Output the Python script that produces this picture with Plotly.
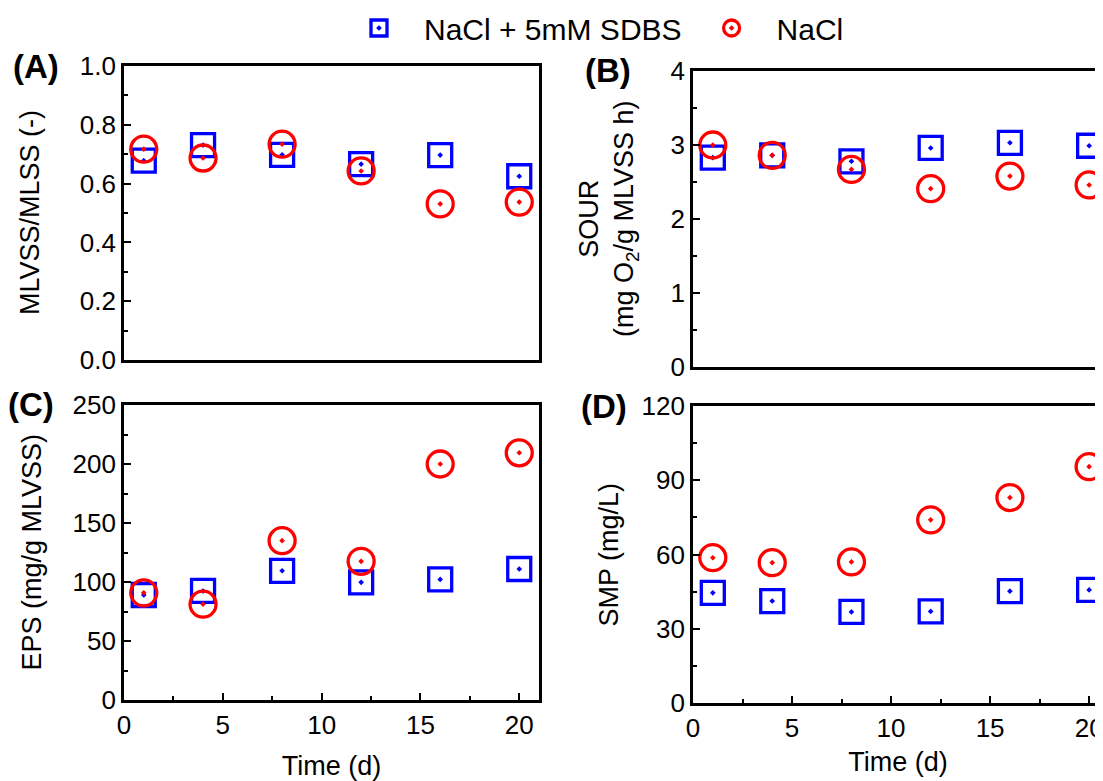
import plotly.graph_objects as go

days = [1, 4, 8, 12, 16, 20]
series_names = ["NaCl + 5mM SDBS", "NaCl"]

ratio_sdbs = [0.678, 0.731, 0.698, 0.666, 0.697, 0.625]
ratio_nacl = [0.717, 0.687, 0.734, 0.643, 0.531, 0.537]
sour_sdbs = [2.83, 2.86, 2.78, 2.96, 3.03, 2.99]
sour_nacl = [3.00, 2.86, 2.67, 2.41, 2.58, 2.46]
eps_sdbs = [89.0, 92.4, 109.5, 99.7, 102.2, 111.0]
eps_nacl = [90.8, 81.2, 135.0, 117.5, 200.0, 209.5]
smp_sdbs = [44.5, 41.2, 36.8, 37.0, 45.2, 45.7]
smp_nacl = [58.7, 56.7, 57.0, 74.0, 83.0, 95.5]

FONT = "Arial, Liberation Sans, sans-serif"
OFF = 8  # page body margin
W, H = 1103 - OFF, 781 - OFF


def px_x(p):
    return (p - OFF) / W


def px_y(p):
    return 1 - (p - OFF) / H


panels = [
    ("x", "y", ratio_sdbs, ratio_nacl),
    ("x2", "y2", sour_sdbs, sour_nacl),
    ("x3", "y3", eps_sdbs, eps_nacl),
    ("x4", "y4", smp_sdbs, smp_nacl),
]

NB = "\u00a0"
fig = go.Figure()
for i, (xa, ya, s1, s2) in enumerate(panels):
    fig.add_trace(go.Scatter(
        x=days, y=s1, xaxis=xa, yaxis=ya, mode="markers",
        name=NB * 3 + series_names[0] + NB * 3,
        showlegend=(i == 0), legendgroup="a",
        marker=dict(symbol="square-open-dot", size=23, color="#0000ff",
                    line=dict(width=3.3, color="#0000ff")),
    ))
for i, (xa, ya, s1, s2) in enumerate(panels):
    fig.add_trace(go.Scatter(
        x=days, y=s2, xaxis=xa, yaxis=ya, mode="markers",
        name=NB * 3 + series_names[1],
        showlegend=(i == 0), legendgroup="b",
        marker=dict(symbol="circle-open-dot", size=26, color="#ff0000",
                    line=dict(width=3.3, color="#ff0000")),
    ))

tickfont = dict(family=FONT, size=26, color="black")


def xaxis(domain, anchor, rng, labels, standoff=18):
    d = dict(domain=domain, anchor=anchor, range=rng, showline=True,
             linecolor="black", linewidth=2.6, mirror=True, showgrid=False,
             zeroline=False, tickfont=tickfont, tickmode="linear", tick0=0, dtick=5,
             automargin=False, ticklabeloverflow="allow")
    if labels:
        d.update(ticks="inside", ticklen=7, tickwidth=2, tickcolor="black",
                 showticklabels=True,
                 minor=dict(ticks="inside", ticklen=4, tickwidth=2, tickcolor="black", dtick=2.5),
                 title=dict(text="Time (d)", font=dict(family=FONT, size=27, color="black"),
                            standoff=standoff))
    else:
        d.update(ticks="", showticklabels=False)
    return d


def yaxis(domain, anchor, rng, dtick, fmt, mirror):
    return dict(domain=domain, anchor=anchor, range=rng, showline=True,
                linecolor="black", linewidth=2.6, mirror=mirror, showgrid=False,
                zeroline=False, tickfont=tickfont, tickmode="linear", tick0=0,
                dtick=dtick, tickformat=fmt, ticks="inside", ticklen=7,
                tickwidth=2, tickcolor="black", ticklabelstandoff=0, automargin=False,
                minor=dict(ticks="inside", ticklen=4, tickwidth=2, tickcolor="black",
                           dtick=dtick / 2))


xl = [px_x(124), px_x(539)]
xr = [px_x(693), 1.0]
yA = [px_y(360), px_y(66)]
yB = [px_y(367), px_y(71)]
yC = [px_y(700), px_y(405)]
yD = [px_y(703), px_y(406)]
left_rng = [0, 21]
right_rng = [0, 20.7]

fig.update_layout(
    width=W, height=H, margin=dict(l=0, r=0, t=0, b=0, autoexpand=False),
    plot_bgcolor="white", paper_bgcolor="white",
    font=dict(family=FONT, color="black"),
    xaxis=xaxis(xl, "y", left_rng, False),
    yaxis=yaxis(yA, "x", [0, 1.0], 0.2, ".1f", True),
    xaxis2=xaxis(xr, "y2", right_rng, False),
    yaxis2=yaxis(yB, "x2", [0, 4], 1, "d", False),
    xaxis3=xaxis(xl, "y3", left_rng, True, 18),
    yaxis3=yaxis(yC, "x3", [0, 250], 50, "d", True),
    xaxis4=xaxis(xr, "y4", right_rng, True, 11),
    yaxis4=yaxis(yD, "x4", [0, 120], 30, "d", False),
    legend=dict(orientation="h", xref="container", yref="container",
                x=px_x(359), y=px_y(28), xanchor="left", yanchor="middle",
                font=dict(family=FONT, size=30, color="black"), bgcolor="rgba(0,0,0,0)",
                itemsizing="trace"),
    showlegend=True,
)

ann_font = dict(family=FONT, size=27, color="black")
ytitles = [
    ("MLVSS/MLSS (-)", 30, (yA[0] + yA[1]) / 2),
    ("SOUR<br>(mg O<sub>2</sub>/g MLVSS h)", 609, (yB[0] + yB[1]) / 2),
    ("EPS (mg/g MLVSS)", 31, (yC[0] + yC[1]) / 2),
    ("SMP (mg/L)", 608, (yD[0] + yD[1]) / 2),
]
for text, xp, yc in ytitles:
    fig.add_annotation(text=text, x=px_x(xp), y=yc, xref="paper", yref="paper",
                       xanchor="center", yanchor="middle", textangle=-90,
                       showarrow=False, font=ann_font)

labels = [("(A)", 36, 66), ("(B)", 608, 71), ("(C)", 31, 405), ("(D)", 604, 406)]
for text, xp, yp in labels:
    fig.add_annotation(text="<b>" + text + "</b>", x=px_x(xp), y=px_y(yp),
                       xref="paper", yref="paper",
                       xanchor="center", yanchor="middle", showarrow=False,
                       font=dict(family=FONT, size=33, color="black"))

fig.write_html("out.html")
